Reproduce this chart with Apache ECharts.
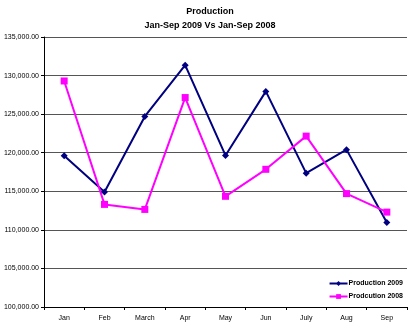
<!DOCTYPE html>
<html><head><meta charset="utf-8">
<script src="https://cdn.jsdelivr.net/npm/echarts@6/dist/echarts.min.js"></script>
<style>html,body{margin:0;padding:0;background:#fff}#c{width:420px;height:328px}</style>
</head><body><div id="c"></div>
<script>
var categories = ['Jan','Feb','March','Apr','May','Jun','July','Aug','Sep'];
var production2009 = [119600, 114900, 124700, 131350, 119650, 127950, 117350, 120400, 110950];
var production2008 = [129300, 113300, 112650, 127150, 114350, 117850, 122150, 114700, 112300];
var yMin = 100000, yMax = 135000, yStep = 5000;

var chart = echarts.init(document.getElementById('c'), null, {renderer:'canvas'});
var fmt = function(v){ return v.toLocaleString('en-US',{minimumFractionDigits:2, maximumFractionDigits:2}); };
chart.setOption({
  animation:false,
  backgroundColor:'#fff',
  title:{
    text:'Production\nJan-Sep 2009 Vs Jan-Sep 2008',
    left:'center', top:0,
    textStyle:{fontFamily:'Liberation Sans, Arial', fontSize:9, fontWeight:'bold', color:'#000', lineHeight:14}
  },
  legend:{
    orient:'vertical', right:12, top:275, itemGap:6, itemWidth:18, itemHeight:6,
    textStyle:{fontFamily:'Liberation Sans, Arial', fontSize:7, fontWeight:'bold', color:'#000', padding:[0,0,0,-4]},
    data:['Production 2009','Prodcution 2008']
  },
  grid:{left:44, right:13, top:37, bottom:21, containLabel:false},
  xAxis:{
    type:'category', data:categories, boundaryGap:true,
    axisLine:{lineStyle:{color:'#000', width:1}},
    axisTick:{show:true, length:3, lineStyle:{color:'#000'}},
    axisLabel:{fontFamily:'Liberation Sans, Arial', fontSize:7, color:'#000', margin:8}
  },
  yAxis:{
    type:'value', min:yMin, max:yMax, interval:yStep,
    axisLine:{show:true, lineStyle:{color:'#000', width:1}},
    axisTick:{show:true, length:3, lineStyle:{color:'#000'}},
    splitLine:{lineStyle:{color:'#555', width:1}},
    axisLabel:{fontFamily:'Liberation Sans, Arial', fontSize:7, color:'#000', margin:5, formatter:fmt}
  },
  series:[
    {name:'Production 2009', type:'line', data:production2009, symbol:'diamond', symbolSize:7,
     lineStyle:{color:'#000080', width:2}, itemStyle:{color:'#000080'}, color:'#000080'},
    {name:'Prodcution 2008', type:'line', data:production2008, symbol:'rect', symbolSize:7,
     lineStyle:{color:'#FF00FF', width:2}, itemStyle:{color:'#FF00FF'}, color:'#FF00FF'}
  ]
});
</script></body></html>
